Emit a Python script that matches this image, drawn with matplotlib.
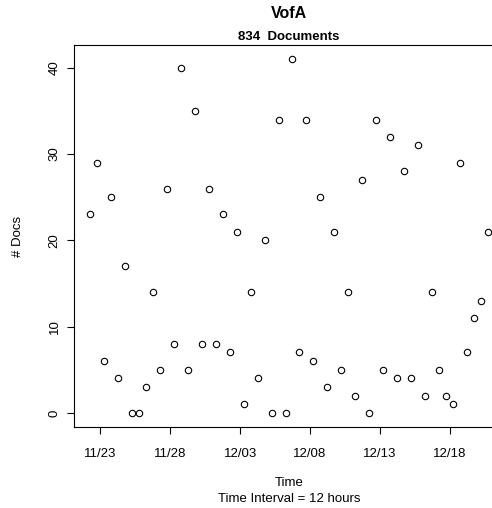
import pandas as pd
import matplotlib
matplotlib.use('Agg')
import matplotlib.pyplot as plt
import matplotlib.dates as mdates

plt.rcParams['font.family'] = ['Liberation Sans', 'DejaVu Sans']

# documents per 12-hour bin
start_time = '2009-11-22 06:00'
doc_counts = [23, 29, 6, 25, 4, 17, 0, 0, 3, 14, 5, 26, 8, 40, 5, 35, 8, 26, 8, 23,
              7, 21, 1, 14, 4, 20, 0, 34, 0, 41, 7, 34, 6, 25, 3, 21, 5, 14, 2, 27,
              0, 34, 5, 32, 4, 28, 4, 31, 2, 14, 5, 2, 1, 29, 7, 11, 13, 21]
tick_dates = ['2009-11-23', '2009-11-28', '2009-12-03', '2009-12-08', '2009-12-13', '2009-12-18']
y_ticks = [0, 10, 20, 30, 40]

times = pd.date_range(start_time, periods=len(doc_counts), freq='12h')

W, H = 492, 508
fig = plt.figure(figsize=(W / 100, H / 100), dpi=100)
# plot region runs past the right edge of the image, like the original
ax = fig.add_axes([74 / W, (H - 427) / H, 430 / W, 382 / H])

ax.plot(times, doc_counts, 'o', mfc='none', mec='black', ms=4.6, mew=0.8)

# R style 4% padding
x0 = mdates.date2num(times[0])
x1 = mdates.date2num(times[-1])
pad = (x1 - x0) * 0.04
ax.set_xlim(x0 - pad, x1 + pad)
ymax = max(doc_counts)
ax.set_ylim(-0.04 * ymax, ymax * 1.04)

ax.set_xticks(pd.to_datetime(tick_dates))
ax.xaxis.set_major_formatter(mdates.DateFormatter('%m/%d'))
ax.set_yticks(y_ticks)
ax.tick_params(direction='out', length=5, width=0.8, labelsize=9.5)
ax.tick_params(axis='x', pad=10)
ax.tick_params(axis='y', pad=4.5)
for lab in ax.get_yticklabels():
    lab.set_rotation(90)
    lab.set_va('center')
for s in ax.spines.values():
    s.set_linewidth(0.8)

fig.text(289 / W, 1 - 13 / H, 'VofA', ha='center', va='center', fontsize=11.5, fontweight='bold')
fig.text(289 / W, 1 - 37 / H, '834  Documents', ha='center', va='center', fontsize=9.5, fontweight='bold')
fig.text(289 / W, 1 - 483 / H, 'Time', ha='center', va='center', fontsize=9.5)
fig.text(289 / W, 1 - 499 / H, 'Time Interval = 12 hours', ha='center', va='center', fontsize=9.5)
fig.text(18 / W, 1 - 236 / H, '# Docs', ha='center', va='center', rotation=90, fontsize=9.5)

fig.savefig('out.png', dpi=100)
